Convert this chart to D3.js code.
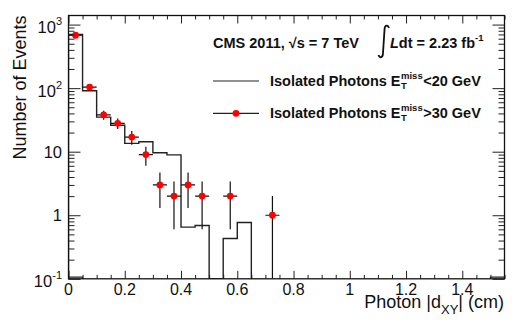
<!DOCTYPE html>
<html>
<head>
<meta charset="utf-8">
<script src="https://cdn.jsdelivr.net/npm/d3@7"></script>
<style>
body { margin: 0; background: #fff; }
svg { display: block; font-family: "Liberation Sans", Arial, Helvetica, sans-serif; }
</style>
</head>
<body>
<svg id="chart" width="532" height="323"></svg>
<script>
// Black histogram (Isolated Photons, MET < 20 GeV): lower bin edges and contents
const binWidth = 0.05;
const histLow = [0, 0.05, 0.1, 0.15, 0.2, 0.25, 0.3, 0.35, 0.4, 0.45, 0.5, 0.55, 0.6];
const histVals = [700, 91, 35, 26, 13.5, 14.3, 9.6, 8.9, 0.65, 0.69, 0, 0.43, 0.77];

// small floor outline in first and last bins
const floorLow = [0, 1.5];
const floorVals = [0.106, 0.106];

// Red points (Isolated Photons, MET > 30 GeV)
const ptX = [0.025, 0.075, 0.125, 0.175, 0.225, 0.275, 0.325, 0.375, 0.425, 0.475, 0.575, 0.725];
const ptY = [680, 104, 38, 28, 17, 9, 3, 2, 3, 2, 2, 1];
const ptErr = [26, 10.2, 6.2, 5.3, 4.1, 3, 1.7, 1.4, 1.7, 1.4, 1.4, 1];

// axis ticks
const xMajor = [0, 0.2, 0.4, 0.6, 0.8, 1, 1.2, 1.4];
const xLabels = ['0', '0.2', '0.4', '0.6', '0.8', '1', '1.2', '1.4'];
const yMajor = [0.1, 1, 10, 100, 1000];
const yLabelBase = ['10', '1', '10', '10', '10'];
const yLabelExp = ['-1', '', '', '2', '3'];

const margin = { left: 68.5, right: 504.5, top: 15.5, bottom: 278.8 };

const svg = d3.select('#chart');

const x = d3.scaleLinear().domain([0, 1.55]).range([margin.left, margin.right]);
const y = d3.scaleLog().domain([0.1, 1390]).range([margin.bottom, margin.top]);
const yBottom = margin.bottom;

svg.append('clipPath').attr('id', 'plotclip')
    .append('rect')
    .attr('x', margin.left).attr('y', margin.top)
    .attr('width', margin.right - margin.left)
    .attr('height', margin.bottom - margin.top);

const plot = svg.append('g').attr('clip-path', 'url(#plotclip)');

// step outline for a histogram
function stepPoints(lows, vals) {
    const pts = [[lows[0], 0]];
    lows.forEach((lo, i) => {
        pts.push([lo, vals[i]]);
        pts.push([lo + binWidth, vals[i]]);
    });
    pts.push([lows[lows.length - 1] + binWidth, 0]);
    return pts;
}

const stepLine = d3.line()
    .x(d => x(d[0]))
    .y(d => (d[1] > 0 ? y(d[1]) : yBottom));

plot.append('path')
    .attr('d', stepLine(stepPoints(histLow, histVals)))
    .attr('fill', 'none')
    .attr('stroke', '#222')
    .attr('stroke-width', 1.4);

floorLow.forEach((lo, i) => {
    plot.append('path')
        .attr('d', stepLine(stepPoints([lo], [floorVals[i]])))
        .attr('fill', 'none')
        .attr('stroke', '#222')
        .attr('stroke-width', 1.2);
});

// error bars
const pts = ptX.map((v, i) => ({ x: v, y: ptY[i], e: ptErr[i] }));

plot.append('g').selectAll('line.ex')
    .data(pts)
    .enter()
    .append('line')
    .attr('x1', d => x(d.x - binWidth / 2))
    .attr('x2', d => x(d.x + binWidth / 2))
    .attr('y1', d => y(d.y))
    .attr('y2', d => y(d.y))
    .attr('stroke', '#111')
    .attr('stroke-width', 1.2);

plot.append('g').selectAll('line.ey')
    .data(pts)
    .enter()
    .append('line')
    .attr('x1', d => x(d.x))
    .attr('x2', d => x(d.x))
    .attr('y1', d => y(d.y + d.e))
    .attr('y2', d => (d.y - d.e > 0 ? y(d.y - d.e) : yBottom))
    .attr('stroke', '#111')
    .attr('stroke-width', 1.2);

plot.append('g').selectAll('circle')
    .data(pts)
    .enter()
    .append('circle')
    .attr('cx', d => x(d.x))
    .attr('cy', d => y(d.y))
    .attr('r', 3.4)
    .attr('fill', '#ff0000');

// ticks on all four sides, pointing inwards
const xMinor = x.ticks(31).filter(t => !xMajor.some(m => Math.abs(m - t) < 1e-6));
const yAll = y.ticks();
const yMinor = yAll.filter(t => Math.abs(Math.log10(t) - Math.round(Math.log10(t))) > 1e-6);

function tickGroup(axis, tr) {
    const g = svg.append('g').attr('transform', tr).call(axis);
    g.select('.domain').remove();
    g.selectAll('line').attr('stroke', '#222').attr('stroke-width', 1);
    g.selectAll('text').remove();
    return g;
}

tickGroup(d3.axisBottom(x).tickValues(xMajor).tickSize(-8), `translate(0,${margin.bottom})`);
tickGroup(d3.axisBottom(x).tickValues(xMinor).tickSize(-4), `translate(0,${margin.bottom})`);
tickGroup(d3.axisTop(x).tickValues(xMajor).tickSize(-8), `translate(0,${margin.top})`);
tickGroup(d3.axisTop(x).tickValues(xMinor).tickSize(-4), `translate(0,${margin.top})`);
tickGroup(d3.axisLeft(y).tickValues(yMajor).tickSize(-12), `translate(${margin.left},0)`);
tickGroup(d3.axisLeft(y).tickValues(yMinor).tickSize(-6), `translate(${margin.left},0)`);
tickGroup(d3.axisRight(y).tickValues(yMajor).tickSize(-12), `translate(${margin.right},0)`);
tickGroup(d3.axisRight(y).tickValues(yMinor).tickSize(-6), `translate(${margin.right},0)`);

// frame
svg.append('rect')
    .attr('x', margin.left).attr('y', margin.top)
    .attr('width', margin.right - margin.left)
    .attr('height', margin.bottom - margin.top)
    .attr('fill', 'none')
    .attr('stroke', '#111')
    .attr('stroke-width', 1.3);

// x tick labels
svg.append('g').selectAll('text')
    .data(xMajor)
    .enter()
    .append('text')
    .attr('x', d => x(d))
    .attr('y', 295)
    .attr('text-anchor', 'middle')
    .attr('font-size', 16)
    .attr('fill', '#111')
    .text((d, i) => xLabels[i]);

// y tick labels
yMajor.forEach((v, i) => {
    const t = svg.append('text')
        .attr('x', 62)
        .attr('text-anchor', 'end')
        .attr('font-size', 16.5)
        .attr('fill', '#111');
    if (yLabelExp[i]) {
        t.attr('y', y(v) + 8.5);
        t.append('tspan').text(yLabelBase[i]);
        t.append('tspan').attr('font-size', 11).attr('dy', -8).text(yLabelExp[i]);
    } else {
        t.attr('y', y(v) + 6).text(yLabelBase[i]);
    }
});

// axis titles
svg.append('text')
    .attr('transform', 'translate(26,15.5) rotate(-90)')
    .attr('text-anchor', 'end')
    .attr('font-size', 18)
    .attr('fill', '#111')
    .text('Number of Events');

const xt = svg.append('text')
    .attr('x', 504)
    .attr('y', 307.5)
    .attr('text-anchor', 'end')
    .attr('font-size', 18)
    .attr('fill', '#111');
xt.append('tspan').text('Photon |d');
xt.append('tspan').attr('font-size', 13).attr('dy', 6).text('XY');
xt.append('tspan').attr('dy', -6).text('| (cm)');

// header
const head = svg.append('g').attr('font-weight', 'bold').attr('font-size', 14.5).attr('fill', '#111');
head.append('text').attr('x', 213).attr('y', 48).text('CMS 2011, \u221As = 7 TeV');
head.append('path')
    .attr('d', 'M378.5,55 C379.5,58.5 383,58 383,53 L384.5,30 C384.5,24.5 388,24.5 389,28')
    .attr('fill', 'none')
    .attr('stroke', '#111')
    .attr('stroke-width', 1.8);
const lum = head.append('text').attr('x', 390).attr('y', 48);
lum.append('tspan').attr('font-style', 'italic').text('L');
lum.append('tspan').text('dt = 2.23 fb');
lum.append('tspan').attr('font-size', 9.5).attr('dy', -7).text('-1');

// legend
const legendRows = [
    { y: 81, sign: '<20 GeV', marker: false },
    { y: 113.3, sign: '>30 GeV', marker: true },
];
legendRows.forEach((r) => {
    const g = svg.append('g');
    g.append('line')
        .attr('x1', 213).attr('x2', 259)
        .attr('y1', r.y).attr('y2', r.y)
        .attr('stroke', '#222')
        .attr('stroke-width', 1.2);
    if (r.marker) {
        g.append('circle').attr('cx', 236).attr('cy', r.y).attr('r', 3.4).attr('fill', '#ff0000');
    }
    const base = r.y + 5;
    const t = g.append('text')
        .attr('x', 270).attr('y', base)
        .attr('font-weight', 'bold').attr('font-size', 14.5).attr('fill', '#111')
        .text('Isolated Photons E');
    const x0 = 270 + t.node().getComputedTextLength() + 0.5;
    const sup = g.append('text')
        .attr('x', x0).attr('y', base - 7)
        .attr('font-weight', 'bold').attr('font-size', 9.5).attr('fill', '#111')
        .text('miss');
    g.append('text')
        .attr('x', x0).attr('y', base + 2.5)
        .attr('font-weight', 'bold').attr('font-size', 9.5).attr('fill', '#111')
        .text('T');
    g.append('text')
        .attr('x', x0 + sup.node().getComputedTextLength() + 0.5).attr('y', base)
        .attr('font-weight', 'bold').attr('font-size', 14.5).attr('fill', '#111')
        .text(r.sign);
});
</script>
</body>
</html>
